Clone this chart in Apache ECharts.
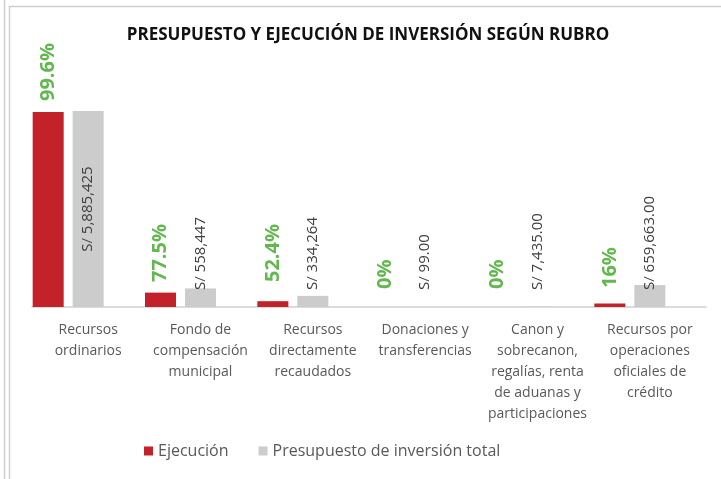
<!DOCTYPE html>
<html>
<head>
<meta charset="utf-8">
<title>Presupuesto y ejecución de inversión según rubro</title>
<script src="https://cdn.jsdelivr.net/npm/echarts@6/dist/echarts.min.js"></script>
<style>
  html, body { margin: 0; padding: 0; background: #ffffff; }
  #chart { width: 721px; height: 479px; }
</style>
</head>
<body>
<div id="chart"></div>
<script>
// datos
const categorias = [
  'Recursos\nordinarios',
  'Fondo de\ncompensación\nmunicipal',
  'Recursos\ndirectamente\nrecaudados',
  'Donaciones y\ntransferencias',
  'Canon y\nsobrecanon,\nregalías, renta\nde aduanas y\nparticipaciones',
  'Recursos por\noperaciones\noficiales de\ncrédito'
];
const presupuesto = [5885425, 558447, 334264, 99, 7435, 659663];
const ejecucion = [5861883, 432796, 175154, 0, 0, 105546];
const etiquetasEjecucion = ['99.6%', '77.5%', '52.4%', '0%', '0%', '16%'];
const etiquetasPresupuesto = ['S/ 5,885,425', 'S/ 558,447', 'S/ 334,264', 'S/ 99.00', 'S/ 7,435.00', 'S/ 659,663.00'];

const rojo = '#c3222b';
const gris = '#cccccc';
const verde = '#62b74e';
const fuente = "'Open Sans', 'Noto Sans', sans-serif";

// distancia de cada etiqueta sobre la base
const distEjec = [206, 25, 25, 18, 18, 19];
const distPres = [0, 17, 17, 17, 17, 17];

const chart = echarts.init(document.getElementById('chart'));

const serieEjec = ejecucion.map((v, i) => ({
  value: v,
  label: { formatter: etiquetasEjecucion[i], distance: distEjec[i] }
}));

const seriePres = presupuesto.map((v, i) => ({
  value: v,
  label: i === 0
    ? { formatter: etiquetasPresupuesto[i], position: 'inside', align: 'center', verticalAlign: 'middle' }
    : { formatter: etiquetasPresupuesto[i], distance: distPres[i] }
}));

chart.setOption({
  animation: false,
  textStyle: { fontFamily: fuente },
  title: {
    text: 'PRESUPUESTO Y EJECUCIÓN DE INVERSIÓN SEGÚN RUBRO',
    left: 363,
    top: 22,
    textAlign: 'center',
    textStyle: {
      fontFamily: fuente,
      fontWeight: 'bold',
      fontSize: 17,
      color: '#111111'
    }
  },
  legend: {
    data: ['Ejecución', 'Presupuesto de inversión total'],
    left: 139,
    top: 438,
    itemWidth: 9,
    itemHeight: 9,
    itemGap: 30,
    icon: 'rect',
    textStyle: { fontFamily: fuente, fontSize: 16, color: '#595959' }
  },
  grid: { left: 32, right: 15, top: 74, bottom: 172, containLabel: false },
  xAxis: {
    type: 'category',
    data: categorias,
    axisTick: { show: false },
    axisLine: { lineStyle: { color: '#d0d0d0', width: 1.5 } },
    axisLabel: {
      interval: 0,
      margin: 13,
      fontFamily: fuente,
      fontSize: 14,
      lineHeight: 21,
      color: '#595959'
    }
  },
  yAxis: {
    type: 'value',
    min: 0,
    max: 7000000,
    show: false
  },
  graphic: [
    { type: 'line', shape: { x1: 4.5, y1: 0, x2: 4.5, y2: 479 }, style: { stroke: '#cfcfcf', lineWidth: 1.5 } },
    { type: 'polyline', shape: { points: [[9.5, 479], [9.5, 6.5], [721, 6.5]] }, style: { stroke: '#cfcfcf', lineWidth: 1.5, fill: null } }
  ],
  series: [
    {
      name: 'Ejecución',
      type: 'bar',
      barWidth: 31,
      barGap: '29%',
      itemStyle: { color: rojo },
      label: {
        show: true,
        position: 'insideBottom',
        rotate: 90,
        align: 'left',
        verticalAlign: 'middle',
        fontFamily: fuente,
        fontWeight: 'bold',
        fontSize: 20,
        color: verde
      },
      data: serieEjec
    },
    {
      name: 'Presupuesto de inversión total',
      type: 'bar',
      barWidth: 31,
      barGap: '29%',
      itemStyle: { color: gris },
      label: {
        show: true,
        position: 'insideBottom',
        rotate: 90,
        align: 'left',
        verticalAlign: 'middle',
        fontFamily: fuente,
        fontSize: 15,
        color: '#404040'
      },
      data: seriePres
    },
    {
      // hueco vacío que deja Excel a la derecha de cada grupo
      name: '',
      type: 'bar',
      barWidth: 31,
      barGap: '29%',
      data: categorias.map(() => null)
    }
  ]
});
</script>
</body>
</html>
